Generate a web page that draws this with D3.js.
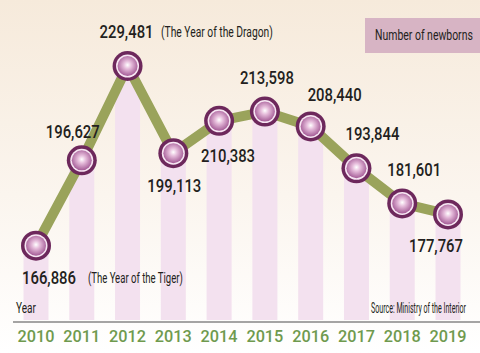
<!DOCTYPE html>
<html>
<head>
<meta charset="utf-8">
<script src="https://cdn.jsdelivr.net/npm/d3@7"></script>
<style>
  html, body { margin: 0; padding: 0; background: #fff; }
  svg { display: block; }
  .num { font-family: "Roboto", sans-serif; font-weight: 500; font-size: 18.5px; fill: #231f20; }
  .note { font-family: "Roboto", sans-serif; font-size: 14.5px; fill: #231f20; }
  .year { font-family: "Roboto", sans-serif; font-weight: 500; font-size: 17px; fill: #6f9a4e; }
</style>
</head>
<body>
<div id="chart"></div>
<script>
// Newborns per year (Taiwan, Ministry of the Interior)

const years = [2010, 2011, 2012, 2013, 2014, 2015, 2016, 2017, 2018, 2019];
const births = [166886, 196627, 229481, 199113, 210383, 213598, 208440, 193844, 181601, 177767];
// label offsets relative to the point (dx, dy)
const labelPos = [
    [13, 38], [-9, -22], [-1, -28], [1, 39],
    [9, 41], [2, -28], [24, -25], [16, -28],
    [12, -27], [-12, 38]
];
const notes = { 2010: '(The Year of the Tiger)', 2012: '(The Year of the Dragon)' };

const width = 480, height = 353;
const margin = { top: 0, right: 9, bottom: 31, left: 13 };

// the original uses a condensed face, so squeeze text horizontally to a given width
function squeeze(sel, w) {
    sel.each(function() {
        const n = this.getComputedTextLength();
        const x0 = +this.getAttribute('x'), y0 = +this.getAttribute('y');
        d3.select(this)
            .attr('x', 0).attr('y', 0)
            .attr('transform', `translate(${x0},${y0}) scale(${w / n},1)`);
    });
}

const svg = d3.select('#chart').append('svg')
    .attr('width', width)
    .attr('height', height);

// background gradient
const defs = svg.append('defs');
const bg = defs.append('linearGradient').attr('id', 'bg')
    .attr('x1', 0).attr('y1', 0).attr('x2', 0).attr('y2', 1);
bg.append('stop').attr('offset', '0%').attr('stop-color', '#f6eadb');
bg.append('stop').attr('offset', '55%').attr('stop-color', '#fbf5ee');
bg.append('stop').attr('offset', '100%').attr('stop-color', '#ffffff');

const dot = defs.append('radialGradient').attr('id', 'dot')
    .attr('cx', '50%').attr('cy', '45%').attr('r', '55%');
dot.append('stop').attr('offset', '0%').attr('stop-color', '#ffffff');
dot.append('stop').attr('offset', '35%').attr('stop-color', '#e6bddb');
dot.append('stop').attr('offset', '100%').attr('stop-color', '#a45b96');

svg.append('rect')
    .attr('width', width).attr('height', height)
    .attr('fill', 'url(#bg)');

// Scales
const x = d3.scalePoint()
    .domain(years)
    .range([36, 448]);

const y = d3.scaleLinear()
    .domain([141000, 229481])
    .range([320, 66]);

const axisY = 322;

// pale bars under each point
svg.selectAll('.bar')
    .data(years)
    .enter()
    .append('rect')
    .attr('class', 'bar')
    .attr('x', d => x(d) - 12.5)
    .attr('y', (d, i) => y(births[i]))
    .attr('width', 25)
    .attr('height', (d, i) => axisY - 2 - y(births[i]))
    .attr('fill', '#f3e1ef');

// Legend box
svg.append('rect')
    .attr('x', 365).attr('y', 18)
    .attr('width', 115).attr('height', 35)
    .attr('fill', '#d7b4c4');
svg.append('text')
    .attr('class', 'note')
    .attr('x', 375).attr('y', 40)
    .text('Number of newborns')
    .call(squeeze, 98);

// Line
const line = d3.line()
    .x((d, i) => x(years[i]))
    .y(d => y(d));

svg.append('path')
    .datum(births)
    .attr('d', line)
    .attr('fill', 'none')
    .attr('stroke', '#9aa35b')
    .attr('stroke-width', 10)
    .attr('stroke-linejoin', 'miter');

// Points
const pts = svg.selectAll('.pt')
    .data(years)
    .enter()
    .append('g')
    .attr('class', 'pt')
    .attr('transform', (d, i) => `translate(${x(d)},${y(births[i])})`);

pts.append('circle').attr('r', 15).attr('fill', '#6d285c');
pts.append('circle').attr('r', 11.5).attr('fill', '#f7e6f3');
pts.append('circle').attr('r', 10).attr('fill', 'url(#dot)');

// Value labels
svg.selectAll('.num')
    .data(years)
    .enter()
    .append('text')
    .attr('class', 'num')
    .attr('x', (d, i) => x(d) + labelPos[i][0] - 27)
    .attr('y', (d, i) => y(births[i]) + labelPos[i][1])
    .text((d, i) => d3.format(',')(births[i]))
    .call(squeeze, 54);

// Notes
svg.append('text').attr('class', 'note')
    .attr('x', 88).attr('y', 283)
    .text(notes[2010])
    .call(squeeze, 95);
svg.append('text').attr('class', 'note')
    .attr('x', 161).attr('y', 37)
    .text(notes[2012])
    .call(squeeze, 112);

// X axis
svg.append('line')
    .attr('x1', margin.left).attr('x2', width)
    .attr('y1', axisY).attr('y2', axisY)
    .attr('stroke', '#4d4d4d')
    .attr('stroke-width', 1.2);

svg.selectAll('.year')
    .data(years)
    .enter()
    .append('text')
    .attr('class', 'year')
    .attr('x', d => x(d) - 18.5)
    .attr('y', 342)
    .text(d => d)
    .call(squeeze, 37);

svg.append('text').attr('class', 'note')
    .attr('x', 16).attr('y', 313)
    .attr('fill', '#333')
    .text('Year')
    .call(squeeze, 20);

svg.append('text').attr('class', 'note')
    .attr('x', 371).attr('y', 313)
    .attr('font-size', '11px')
    .text('Source: Ministry of the Interior')
    .call(squeeze, 95);
</script>
</body>
</html>
